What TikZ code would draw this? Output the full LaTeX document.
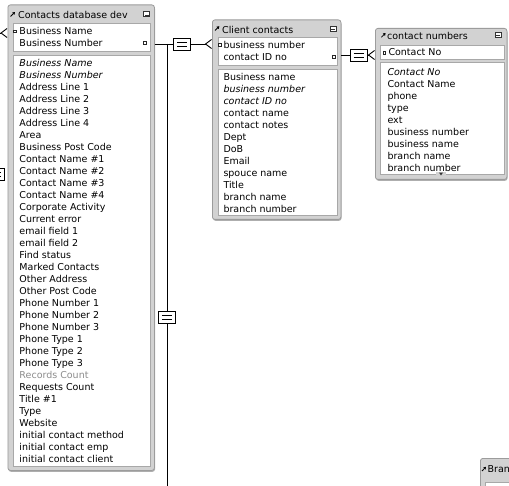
\documentclass[tikz,border=0pt]{standalone}
\usepackage{fontspec}
\newfontfamily\uifont{DejaVu Sans}
\usetikzlibrary{arrows.meta, positioning, calc, shadows}
\definecolor{mFrame}{HTML}{D2D2D2}
\definecolor{mEdge}{HTML}{9C9C9C}
\definecolor{mInner}{HTML}{A8A8A8}
\definecolor{mDim}{HTML}{8C8C8C}

\begin{document}
\begin{tikzpicture}[x=1pt, y=-1pt,
    tbl/.style={draw=mEdge, fill=mFrame, rounded corners=2.5pt, line width=0.8pt, anchor=north west, inner sep=0pt,
      drop shadow={shadow xshift=0.6pt, shadow yshift=-1.4pt, fill=black!45, opacity=0.7}},
    well/.style={draw=mInner, fill=white, line width=0.7pt, anchor=north west, inner sep=0pt},
    fld/.style={anchor=base west, inner sep=0pt, font=\uifont\fontsize{9.5}{11}\selectfont},
    keymark/.style={draw=black!85, fill=white, line width=0.6pt, minimum size=2.6pt, inner sep=0pt},
    winbtn/.style={draw=black!80, fill=white, line width=0.6pt, minimum width=6pt, minimum height=5pt, inner sep=0pt,
      path picture={\fill[black!80] ([xshift=-2pt, yshift=-0.6pt]path picture bounding box.center) rectangle ++(4pt,-1.2pt);}},
    eqbox/.style={draw=black, fill=white, line width=0.8pt, minimum width=17pt, minimum height=12pt, inner sep=0pt,
      path picture={\draw[line width=0.8pt] ([xshift=-5pt, yshift=2pt]path picture bounding box.center) -- ++(10pt,0)
        ([xshift=-5pt, yshift=-2pt]path picture bounding box.center) -- ++(10pt,0);}},
    grip/.style={-{Triangle[length=2.4pt, width=3pt]}, line width=0.8pt},
    conn/.style={draw=black, line width=0.9pt},
    crow/.style={-{Straight Barb[reversed, length=6pt, width=9pt]}}]
    \useasboundingbox (0,0) rectangle (509,486);
    \fill[white] (0,0) rectangle (509,486);
    \clip (0,0) rectangle (509,486);

    \node[tbl, minimum width=146.5pt, minimum height=465.5pt] (t1) at (7.5,4.5) {};
    \node[well, minimum width=137.5pt, minimum height=27.5pt] (t1keys) at (12.5,23.5) {};
    \node[well, minimum width=137.5pt, minimum height=410pt] (t1flds) at (12.5,55.5) {};
    \draw[grip] (10.5,16.5) -- (15,12);
    \node[fld] (t1title) at (18,18.5) {Contacts database dev};
    \node[winbtn] (t1btn) at (146.7,14.2) {};
    \node[keymark] (t1m1) at (15,31.5) {};
    \node[fld] (t1k1) at (19.3,35) {Business Name};
    \node[fld] (t1k2) at (19.3,47) {Business Number};
    \node[keymark] (t1m2) at (144.7,43) {};
    \foreach \f [count=\i from 0] in {\itshape Business Name, \itshape Business Number,
        Address Line 1, Address Line 2, Address Line 3, Address Line 4, Area, Business Post Code,
        Contact Name \#1, Contact Name \#2, Contact Name \#3, Contact Name \#4, Corporate Activity,
        Current error, email field 1, email field 2, Find status, Marked Contacts, Other Address,
        Other Post Code, Phone Number 1, Phone Number 2, Phone Number 3, Phone Type 1, Phone Type 2,
        Phone Type 3, \color{mDim}Records Count, Requests Count, Title \#1, Type, Website,
        initial contact method, initial contact emp, initial contact client} {
      \node[fld] (t1f\i) at (19.3,66.5+12*\i) {\f};
    }

    \node[tbl, minimum width=128.5pt, minimum height=199.5pt] (t2) at (212,19.5) {};
    \node[well, minimum width=119pt, minimum height=27.5pt] (t2keys) at (217.5,37.5) {};
    \node[well, minimum width=119pt, minimum height=146.5pt] (t2flds) at (217.5,69) {};
    \draw[grip] (215,30.5) -- (219.3,26.2);
    \node[fld] (t2title) at (222,33.5) {Client contacts};
    \node[winbtn] (t2btn) at (333,28.5) {};
    \node[keymark] (t2m1) at (219.7,45) {};
    \node[fld] (t2k1) at (223.3,48.5) {business number};
    \node[fld] (t2k2) at (223.3,60.5) {contact ID no};
    \node[keymark] (t2m2) at (333.7,57) {};
    \foreach \f [count=\i from 0] in {Business name, \itshape business number, \itshape contact ID no,
        contact name, contact notes, Dept, DoB, Email, spouce name, Title, branch name, branch number} {
      \node[fld] (t2f\i) at (223.3,80.5+12*\i) {\f};
    }

    \node[tbl, minimum width=131.5pt, minimum height=151pt] (t3) at (375,28) {};
    \node[well, minimum width=123.5pt, minimum height=14pt] (t3keys) at (380,45.5) {};
    \node[well, minimum width=123.5pt, minimum height=112pt] (t3flds) at (380,62.5) {};
    \draw[grip] (381.3,37.3) -- (385.6,33);
    \node[fld] (t3title) at (387,39.5) {contact numbers};
    \node[winbtn] (t3btn) at (498.3,34.7) {};
    \node[keymark] (t3m1) at (384.3,52.7) {};
    \node[fld] (t3k1) at (388.3,56) {Contact No};
    \foreach \f [count=\i from 0] in {\itshape Contact No, Contact Name, phone, type, ext,
        business number, business name, branch name, branch number} {
      \node[fld] (t3f\i) at (387.3,76+12*\i) {\f};
    }
    \fill[mFrame] (436,172) rectangle (446,176);
    \fill[black!80] (439,172.6) -- (443,172.6) -- (441,175.4) -- cycle;

    \node[tbl, minimum width=40pt, minimum height=40pt] (t4) at (480,458) {};
    \node[well, minimum width=30pt, minimum height=10pt] (t4keys) at (485,481.5) {};
    \draw[grip] (482,471) -- (486,466.8);
    \node[fld] (t4title) at (487.5,472.5) {Bran};

    \node[eqbox] (eq0) at (-4,174) {};
    \node[eqbox] (eq1) at (182,44) {};
    \node[eqbox] (eq2) at (167,317.5) {};
    \node[eqbox] (eq3) at (358.5,55) {};
    \coordinate (j1) at (eq2 |- eq1);
    \coordinate (bot) at (0,487);
    \coordinate (lft) at (-12,33);

    \draw[conn] (t1.east |- eq1) -- (eq1);
    \draw[conn, crow] (eq1) -- (t2.west |- eq1);
    \draw[conn] (j1) -- (eq2);
    \draw[conn] (eq2) -- (eq2 |- bot);
    \draw[conn] (t2.east |- eq3) -- (eq3);
    \draw[conn, crow] (eq3) -- (t3.west |- eq3);
    \draw[conn, crow] (lft) -- (t1.west |- lft);
  \end{tikzpicture}
\end{document}
